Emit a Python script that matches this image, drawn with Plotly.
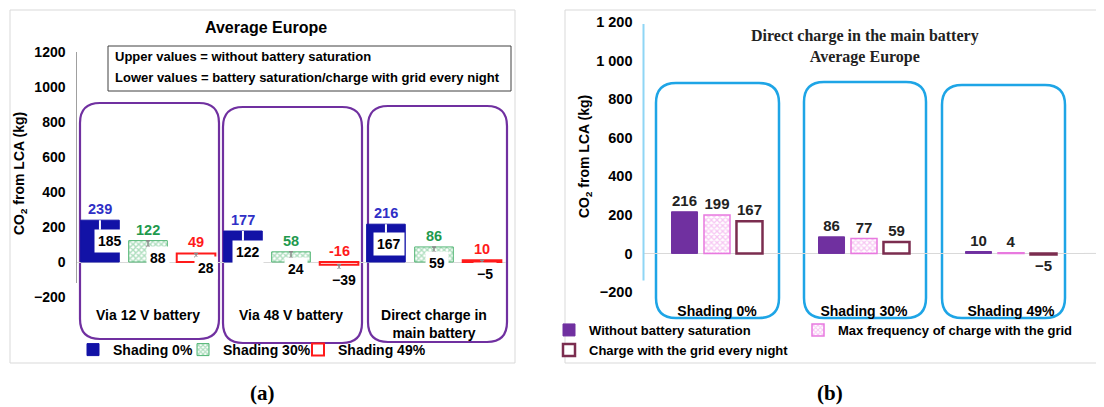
import plotly.graph_objects as go

W, H = 1104, 407
OFF = 8  # the page body adds an 8 px margin around the figure

# ---- panel (a): Average Europe, three charging routes ----
groups_a = ["Via 12 V battery", "Via 48 V battery", "Direct charge in<br>main battery"]
shading_names = ["Shading 0%", "Shading 30%", "Shading 49%"]
upper_0 = [239, 177, 216]      # without battery saturation
upper_30 = [122, 58, 86]
upper_49 = [49, -16, 10]
lower_0 = [185, 122, 167]      # battery saturation / grid charge every night
lower_30 = [88, 24, 59]
lower_49 = [28, -39, -5]

# ---- panel (b): direct charge in the main battery ----
groups_b = ["Shading 0%", "Shading 30%", "Shading 49%"]
names_b = ["Without battery saturation", "Max frequency of charge with the grid",
           "Charge with the grid every night"]
without_sat = [216, 86, 10]
max_freq = [199, 77, 4]
every_night = [167, 59, -5]

yticks = [-200, 0, 200, 400, 600, 800, 1000, 1200]
yticktext_a = ["−200", "0", "200", "400", "600", "800", "1000", "1200"]
yticktext_b = ["−200", "0", "200", "400", "600", "800", "1 000", "1 200"]

FONT = "Arial, Liberation Sans, sans-serif"
SERIF = "Liberation Serif, Times New Roman, serif"


def px(x):
    return (x - OFF) / W


def py(y):
    return 1 - (y - OFF) / H


def num(v, minus="−"):
    return f"{minus}{abs(v)}" if v < 0 else str(v)


def rbox(x0, y0, x1, y1, r):
    """rounded rectangle path in paper units from pixel corners"""
    rx, ry = r / W, r / H
    a, c = px(x0), px(x1)
    d, b = py(y0), py(y1)
    return (f"M{a+rx},{d} L{c-rx},{d} Q{c},{d} {c},{d-ry} L{c},{b+ry} Q{c},{b} {c-rx},{b} "
            f"L{a+rx},{b} Q{a},{b} {a},{b+ry} L{a},{d-ry} Q{a},{d} {a+rx},{d} Z")


fig = go.Figure()

# panel (a) bars
wa, pa = 0.27, 0.336
styles_a = [
    dict(marker=dict(color="#1212a6", line=dict(color="#1212a6", width=1)),
         err=dict(color="white", thickness=2, width=0), lab="#2f2fc6"),
    dict(marker=dict(color="white", line=dict(color="#4fb472", width=1),
                     pattern=dict(shape="x", fgcolor="#5dbd7e", bgcolor="white", size=4, solidity=0.6)),
         err=dict(color="#8a8a8a", thickness=1.5, width=2), lab="#1f9a4e"),
    dict(marker=dict(color="white", line=dict(color="#ff1a1a", width=2)),
         err=dict(color="#8a8a8a", thickness=1.5, width=2), lab="#ff1a1a"),
]
legends_a = ["legend", "legend4", "legend5"]
uppers = [upper_0, upper_30, upper_49]
lowers = [lower_0, lower_30, lower_49]
for k, (name, up, lo, st) in enumerate(zip(shading_names, uppers, lowers, styles_a)):
    fig.add_trace(go.Bar(
        x=groups_a, y=up, name=name, width=wa, offset=(k - 1) * pa - wa / 2,
        marker=st["marker"], xaxis="x", yaxis="y", legend=legends_a[k],
        error_y=dict(type="data", symmetric=False, array=[0] * len(up),
                     arrayminus=[u - l for u, l in zip(up, lo)], **st["err"]),
        hoverinfo="skip",
    ))

# panel (b) bars
wb, pb = 0.177, 0.221
styles_b = [
    dict(color="#7030a0", line=dict(color="#7030a0", width=1)),
    dict(color="white", line=dict(color="#e879df", width=1.5),
         pattern=dict(shape="x", fgcolor="#f08ee8", bgcolor="white", size=4, solidity=0.55)),
    dict(color="white", line=dict(color="#7b2d4f", width=2.5)),
]
legends_b = ["legend2", "legend6", "legend3"]
for k, (name, vals, st) in enumerate(zip(names_b, [without_sat, max_freq, every_night], styles_b)):
    fig.add_trace(go.Bar(
        x=groups_b, y=vals, name=name, width=wb, offset=(k - 1) * pb - wb / 2,
        marker=st, xaxis="x2", yaxis="y2", legend=legends_b[k],
        text=[num(v) for v in vals], textposition="outside", cliponaxis=False,
        constraintext="none",
        textfont=dict(family=FONT, size=15, color="#222222", weight="bold"),
        hoverinfo="skip",
    ))

annotations = []
# upper (coloured) and lower (black, white box) labels of panel (a)
lower_shift = [10, 5, 3]
for k, (up, lo, st) in enumerate(zip(uppers, lowers, styles_a)):
    for i in range(len(groups_a)):
        xc = i + (k - 1) * pa
        annotations.append(dict(
            x=xc, y=max(up[i], 0), xref="x", yref="y", text=num(up[i], "-"),
            showarrow=False, xanchor="center", yanchor="bottom", yshift=1,
            font=dict(family=FONT, size=14.5, color=st["lab"], weight="bold")))
        annotations.append(dict(
            x=xc, y=lo[i], xref="x", yref="y", text=num(lo[i]),
            showarrow=False, xanchor="center", yanchor="top", xshift=lower_shift[i], yshift=1,
            bgcolor="white", borderpad=3,
            font=dict(family=FONT, size=14, color="black", weight="bold")))


def note(x, y, text, **kw):
    d = dict(x=px(x), y=py(y), xref="paper", yref="paper", text=text, showarrow=False,
             xanchor="center", yanchor="middle")
    d.update(kw)
    return d


annotations += [
    note(266, 28, "Average Europe",
         font=dict(family=FONT, size=16, color="black", weight="bold")),
    note(113, 57, "Upper values = without battery saturation", xanchor="left",
         font=dict(family=FONT, size=13, color="black", weight="bold")),
    note(113, 77, "Lower values = battery saturation/charge with grid every night", xanchor="left",
         font=dict(family=FONT, size=13, color="black", weight="bold")),
    note(20, 174, "CO<sub>2</sub> from LCA (kg)", textangle=-90,
         font=dict(family=FONT, size=14, color="black", weight="bold")),
    note(585, 157, "CO<sub>2</sub> from LCA (kg)", textangle=-90,
         font=dict(family=FONT, size=14, color="black", weight="bold")),
    note(865, 47, "Direct charge in the main battery<br>Average Europe",
         font=dict(family=SERIF, size=16, color="#222222", weight="bold")),
    note(262, 393, "(<b>a</b>)", font=dict(family=SERIF, size=21, color="black")),
    note(830, 393, "(<b>b</b>)", font=dict(family=SERIF, size=21, color="black")),
]

shapes = [
    # panel frames
    dict(type="rect", xref="paper", yref="paper", x0=px(10), x1=px(515), y0=py(363), y1=py(10),
         line=dict(color="#d9d9d9", width=1), layer="below"),
    dict(type="rect", xref="paper", yref="paper", x0=px(565), x1=px(1120), y0=py(363), y1=py(10),
         line=dict(color="#d9d9d9", width=1), layer="below"),
    # note box
    dict(type="rect", xref="paper", yref="paper", x0=px(108), x1=px(511), y0=py(91), y1=py(46),
         line=dict(color="#404040", width=1)),
    # axis lines
    dict(type="line", xref="x domain", yref="y", x0=0, x1=0, y0=-120, y1=1200,
         line=dict(color="#a0a0a0", width=1)),
    dict(type="line", xref="x2 domain", yref="y2", x0=0, x1=0, y0=-140, y1=1190,
         line=dict(color="#8fd6f5", width=2)),
    dict(type="line", xref="paper", yref="y2", x0=px(1084), x1=1, y0=0, y1=0,
         line=dict(color="#d9d9d9", width=1), layer="below"),
]
for x0, y0, x1, y1 in [(80, 103, 219, 339), (223, 107, 362, 343), (368, 106, 507, 342)]:
    shapes.append(dict(type="path", xref="paper", yref="paper", path=rbox(x0, y0, x1, y1, 20),
                       line=dict(color="#7030a0", width=2.2), layer="below"))
for x0, y0, x1, y1 in [(656, 83, 779, 318), (804, 82, 926, 318), (942, 85, 1065, 318)]:
    shapes.append(dict(type="path", xref="paper", yref="paper", path=rbox(x0, y0, x1, y1, 20),
                       line=dict(color="#1ea5e6", width=2.5), layer="below"))

axis_common = dict(showgrid=False, showline=False, ticks="", fixedrange=True, automargin=False)


def leg(x, y, size):
    return dict(orientation="h", x=px(x - 40), y=py(y), xanchor="left", yanchor="middle",
                bgcolor="rgba(0,0,0,0)",
                font=dict(family=FONT, size=size, color="black", weight="bold"))


fig.update_layout(
    width=W, height=H, margin=dict(l=0, r=0, t=0, b=0),
    paper_bgcolor="white", plot_bgcolor="rgba(0,0,0,0)",
    font=dict(family=FONT, color="black", weight="bold"),
    barmode="overlay", showlegend=True,
    xaxis=dict(domain=[px(76.5), px(505.5)], anchor="y", type="category",
               tickfont=dict(size=14, weight="bold"), ticklabelstandoff=8, **axis_common),
    yaxis=dict(domain=[py(297), py(52)], anchor="x", range=[-200, 1200],
               tickvals=yticks, ticktext=yticktext_a, zeroline=True, zerolinecolor="#d9d9d9",
               zerolinewidth=1, tickfont=dict(size=14, weight="bold"), ticklabelstandoff=10,
               **axis_common),
    xaxis2=dict(domain=[px(643.5), px(1084.5)], anchor="y2", type="category",
                tickfont=dict(size=14, weight="bold"), ticklabelstandoff=9, **axis_common),
    yaxis2=dict(domain=[py(292), py(22)], anchor="x2", range=[-200, 1200],
                tickvals=yticks, ticktext=yticktext_b, zeroline=True, zerolinecolor="#d9d9d9",
                zerolinewidth=1, tickfont=dict(size=14.5, weight="bold"), ticklabelstandoff=10,
                **axis_common),
    legend=leg(113, 350, 14),
    legend4=leg(223, 350, 14),
    legend5=leg(338, 350, 14),
    legend2=leg(589, 330, 13),
    legend6=leg(838, 330, 13),
    legend3=leg(589, 350, 13),
    annotations=annotations, shapes=shapes,
)

fig.write_html("out.html", config={"displayModeBar": False})
